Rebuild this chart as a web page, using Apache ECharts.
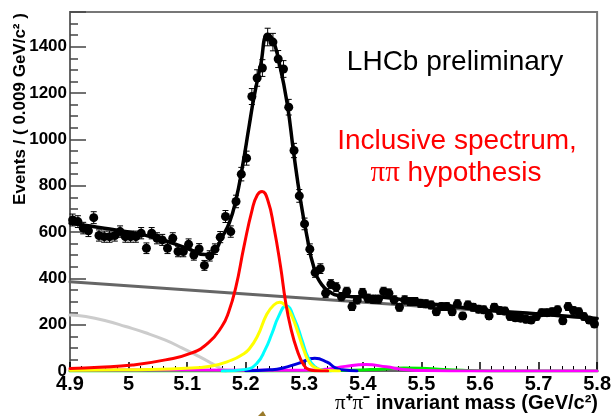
<!DOCTYPE html>
<html>
<head>
<meta charset="utf-8">
<script src="https://cdn.jsdelivr.net/npm/echarts@6/dist/echarts.min.js"></script>
<style>
  html, body { margin: 0; padding: 0; background: #fff; }
  #chart { width: 614px; height: 416px; }
</style>
</head>
<body>
<div id="chart"></div>
<script>
// pi+pi- invariant mass histogram, 100 bins of 0.009 GeV starting at 4.9
const binStart = 4.9;
const binWidth = 0.009;
const counts = [
  652, 645, 617, 605, 662, 585, 580, 580, 585, 602,
  580, 580, 580, 595, 530, 595, 573, 566, 530, 573,
  516, 516, 547, 501, 527, 456, 497, 526, 578, 667,
  602, 732, 850, 919, 1185, 1265, 1308, 1442, 1420, 1347,
  1304, 1139, 952, 756, 635, 526, 425, 442, 336, 375,
  362, 321, 343, 278, 307, 338, 314, 310, 310, 343,
  336, 307, 275, 307, 300, 300, 292, 290, 285, 256,
  278, 278, 256, 290, 238, 285, 275, 267, 264, 238,
  275, 261, 259, 235, 230, 228, 223, 220, 235, 252,
  252, 256, 264, 217, 278, 261, 256, 235, 220, 203
];

// fit curves, [mass, events]
const fitTotal = [
  [4.90, 638], [4.95, 620], [5.00, 600], [5.05, 572], [5.10, 530], [5.13, 503],
  [5.146, 515], [5.158, 570], [5.172, 640], [5.183, 735], [5.194, 876],
  [5.206, 1060], [5.214, 1180], [5.2255, 1320], [5.237, 1450], [5.246, 1432],
  [5.2566, 1337], [5.2707, 1157], [5.282, 940], [5.2935, 739], [5.3047, 580],
  [5.316, 451], [5.330, 372], [5.347, 336], [5.3585, 326], [5.381, 321],
  [5.42, 320], [5.45, 314], [5.50, 294], [5.55, 281], [5.60, 265], [5.70, 246], [5.80, 227]
];
const combBkg = [[4.9, 385], [5.8, 227]];
const partReco = [
  [4.9, 242], [4.927, 235], [4.961, 217], [4.995, 192], [5.029, 165], [5.063, 133],
  [5.091, 100], [5.12, 63], [5.142, 33], [5.159, 8], [5.166, 0]
];
const bdPiPi = [
  [4.9, 11], [4.95, 16], [5.0065, 26], [5.063, 48], [5.108, 78], [5.1365, 122],
  [5.159, 191], [5.1705, 252], [5.183, 360], [5.197, 537], [5.211, 696],
  [5.2198, 760], [5.228, 775], [5.238, 735], [5.248, 623], [5.2595, 451], [5.268, 300],
  [5.2765, 191], [5.2877, 91], [5.299, 26], [5.3075, 7], [5.32, 1], [5.34, 0]
];
const bdKPi = [
  [4.9, 3], [4.98, 5], [5.034, 7], [5.09, 11], [5.142, 22], [5.177, 48], [5.194, 70],
  [5.206, 95], [5.22, 150], [5.236, 245], [5.248, 285], [5.258, 297], [5.27, 275],
  [5.28, 230], [5.29, 160], [5.30, 85], [5.31, 32], [5.322, 10], [5.335, 2], [5.36, 0]
];
const bsKK = [
  [5.16, 0], [5.20, 7], [5.219, 33], [5.233, 91], [5.245, 163], [5.256, 235],
  [5.269, 282], [5.284, 220], [5.296, 134], [5.307, 55], [5.318, 19], [5.33, 4], [5.345, 0]
];
const bsPiK = [
  [5.2, 1], [5.24, 5], [5.262, 12], [5.29, 33], [5.318, 55], [5.339, 38],
  [5.353, 14], [5.365, 5], [5.39, 0]
];
const lbPK = [
  [4.9, 4], [5.1, 4], [5.3, 3], [5.34, 8], [5.37, 20], [5.405, 28], [5.44, 18],
  [5.47, 6], [5.5, 2], [5.55, 0], [5.8, 0]
];
const lbPPi = [
  [4.9, 0], [5.3, 0], [5.38, 3], [5.43, 8], [5.47, 13], [5.5, 12], [5.53, 8],
  [5.57, 3], [5.62, 0], [5.8, 0]
];

const chart = echarts.init(document.getElementById('chart'));

// points + poisson errors
const points = counts.map((n, i) => [binStart + binWidth * (i + 0.5), n]);
const errors = counts.map((n, i) => [binStart + binWidth * (i + 0.5), n - Math.sqrt(n), n + Math.sqrt(n)]);

function renderErr(params, api) {
  const top = api.coord([api.value(0), api.value(2)]);
  const bot = api.coord([api.value(0), api.value(1)]);
  const st = { stroke: '#000', lineWidth: 1 };
  return {
    type: 'group',
    children: [
      { type: 'line', shape: { x1: top[0], y1: top[1], x2: bot[0], y2: bot[1] }, style: st },
      { type: 'line', shape: { x1: top[0] - 3, y1: top[1], x2: top[0] + 3, y2: top[1] }, style: st },
      { type: 'line', shape: { x1: bot[0] - 3, y1: bot[1], x2: bot[0] + 3, y2: bot[1] }, style: st }
    ]
  };
}

function curve(data, color, width) {
  return {
    type: 'line',
    data: data,
    symbol: 'none',
    smooth: 0.5,
    lineStyle: { color: color, width: width || 3, cap: 'round', join: 'round' },
    z: 2
  };
}

const font = 'Liberation Sans';

chart.setOption({
  animation: false,
  backgroundColor: '#fff',
  grid: {
    left: 70, right: 14, top: 12, bottom: 45,
    show: true, borderColor: '#777', borderWidth: 2
  },
  xAxis: {
    type: 'value',
    min: 4.9, max: 5.8, interval: 0.1,
    axisLine: { show: true, lineStyle: { color: '#666', width: 2 } },
    axisTick: { inside: true, length: 9, lineStyle: { color: '#000', width: 1.5 } },
    minorTick: { show: true, splitNumber: 5, length: 5, lineStyle: { color: '#000', width: 1 } },
    axisLabel: {
      fontFamily: font, fontSize: 20, fontWeight: 'bold', color: '#000', margin: 3,
      formatter: v => String(Math.round(v * 10) / 10)
    },
    splitLine: { show: false }
  },
  yAxis: [
    {
      type: 'value',
      min: 0, max: 1550, interval: 50,
      axisLine: { show: true, lineStyle: { color: '#666', width: 2 } },
      axisTick: { inside: true, length: 8, lineStyle: { color: '#444', width: 1.5 } },
      axisLabel: {
        fontFamily: font, fontSize: 17, fontWeight: 'bold', color: '#000', margin: 3,
        formatter: v => (v % 200 === 0 ? String(v) : '')
      },
      splitLine: { show: false }
    },
    {
      // long ticks every 200
      type: 'value', position: 'left', offset: 0,
      min: 0, max: 1550, interval: 200,
      axisLine: { show: false },
      axisTick: { inside: true, length: 16, lineStyle: { color: '#444', width: 1.5 } },
      axisLabel: { show: false },
      splitLine: { show: false }
    }
  ],
  series: [
    curve(partReco, '#cccccc'),
    curve(combBkg, '#666666'),
    curve(lbPPi, '#00ee00'),
    curve(lbPK, '#ff00ff'),
    curve(bsPiK, '#0000dd'),
    curve(bsKK, '#00ffff'),
    curve(bdKPi, '#ffff00'),
    curve(bdPiPi, '#ff0000'),
    {
      type: 'custom',
      renderItem: renderErr,
      data: errors,
      encode: { x: 0, y: [1, 2] },
      z: 3
    },
    Object.assign(curve(fitTotal, '#000', 3.5), { z: 4 }),
    {
      type: 'scatter',
      data: points,
      symbol: 'circle',
      symbolSize: 9,
      itemStyle: { color: '#000', opacity: 1 },
      z: 5
    }
  ],
  graphic: [
    {
      type: 'text', x: 20, y: 109, rotation: Math.PI / 2,
      style: {
        text: 'Events / ( 0.009 GeV/c² )',
        font: 'bold 17px "Liberation Sans"', fill: '#000',
        textAlign: 'center', textVerticalAlign: 'middle'
      }
    },
    {
      type: 'text', x: 598, y: 403,
      style: {
        text: '{pi|π}⁺{pi|π}⁻ invariant mass (GeV/c²)',
        font: 'bold 20px "Liberation Sans"', fill: '#000',
        textAlign: 'right', textVerticalAlign: 'middle',
        rich: { pi: { fontFamily: 'Liberation Serif', fontWeight: 'normal', fontSize: 21 } }
      }
    },
    {
      type: 'text', x: 455, y: 62,
      style: {
        text: 'LHCb preliminary',
        font: '28px "Liberation Sans"', fill: '#000',
        textAlign: 'center', textVerticalAlign: 'middle'
      }
    },
    {
      type: 'text', x: 457, y: 141,
      style: {
        text: 'Inclusive spectrum,',
        font: '28px "Liberation Sans"', fill: '#ff0000',
        textAlign: 'center', textVerticalAlign: 'middle'
      }
    },
    {
      type: 'text', x: 456, y: 173,
      style: {
        text: '{pi|ππ} hypothesis',
        font: '28px "Liberation Sans"', fill: '#ff0000',
        textAlign: 'center', textVerticalAlign: 'middle',
        rich: { pi: { fontFamily: 'Liberation Serif', fontSize: 29 } }
      }
    },
    {
      type: 'polygon',
      shape: { points: [[258, 416], [263, 411], [266, 416]] },
      style: { fill: '#9a7a2a' }
    }
  ]
});
</script>
</body>
</html>
